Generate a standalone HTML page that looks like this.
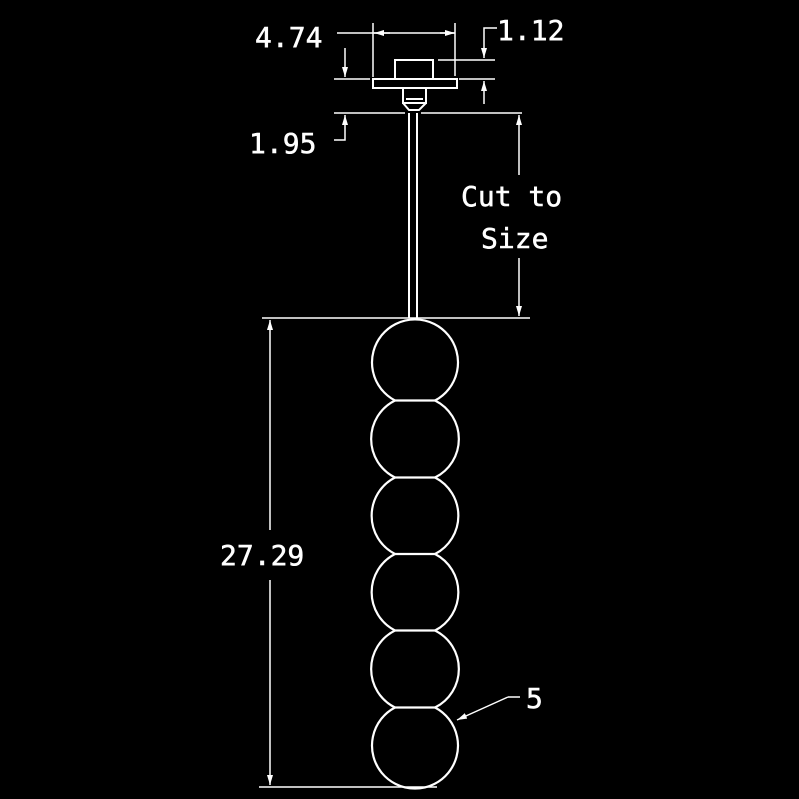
<!DOCTYPE html>
<html><head><meta charset="utf-8"><style>
html,body{margin:0;padding:0;background:#000;}
svg{display:block}
text{font-family:"DejaVu Sans Mono","Liberation Mono",monospace;fill:#fff;font-size:28px;stroke:#fff;stroke-width:0.5}
</style></head><body>
<svg width="799" height="799" viewBox="0 0 799 799" xmlns="http://www.w3.org/2000/svg">
<defs>
<marker id="a" viewBox="0 0 10 6" refX="10" refY="3" markerWidth="10" markerHeight="6" markerUnits="userSpaceOnUse" orient="auto"><path d="M0,0 L10,3 L0,6 z" fill="#fff"/></marker>
</defs>
<g stroke="#fff" stroke-width="1.5" fill="none">
<line x1="337" y1="33" x2="455" y2="33"/>
<line x1="390" y1="33" x2="374" y2="33" marker-end="url(#a)"/>
<line x1="440" y1="33" x2="455" y2="33" marker-end="url(#a)"/>
<line x1="373" y1="23" x2="373" y2="77"/>
<line x1="455" y1="23" x2="455" y2="76"/>
<rect x="373" y="79" width="84" height="9" stroke-width="2"/>
<rect x="395" y="60" width="38" height="19" stroke-width="2"/>
<path d="M403,88 L403,103 L426,103 L426,88 M403,103 L409,110 L419,110 L426,103 M406,99 L423,99" stroke-width="2"/>
<line x1="334" y1="79" x2="370" y2="79"/>
<line x1="345" y1="48" x2="345" y2="77" marker-end="url(#a)"/>
<line x1="438" y1="60" x2="495" y2="60"/>
<line x1="459" y1="79" x2="495" y2="79"/>
<polyline points="497,28 484,28 484,58" marker-end="url(#a)"/>
<line x1="484" y1="104" x2="484" y2="81" marker-end="url(#a)"/>
<line x1="334" y1="113" x2="405" y2="113"/>
<line x1="421" y1="113" x2="522" y2="113"/>
<polyline points="334,140 345,140 345,115" marker-end="url(#a)"/>
<line x1="409" y1="113" x2="409" y2="318" stroke-width="2"/>
<line x1="417" y1="113" x2="417" y2="318" stroke-width="2"/>
<line x1="519" y1="175" x2="519" y2="115" marker-end="url(#a)"/>
<line x1="519" y1="258" x2="519" y2="316" marker-end="url(#a)"/>
<line x1="262" y1="318" x2="530" y2="318"/>
<line x1="270" y1="530" x2="270" y2="320" marker-end="url(#a)"/>
<line x1="270" y1="580" x2="270" y2="785" marker-end="url(#a)"/>
<line x1="259" y1="787" x2="437" y2="787"/>
<line x1="520" y1="697" x2="508" y2="697"/>
<line x1="508" y1="697" x2="457" y2="720" marker-end="url(#a)"/>
</g>
<g stroke="#fff" stroke-width="2.2" fill="none">
<path d="M395,400.5 A43,43 0 1 1 435,400.5"/>
<path d="M395,400.5 A43,43 0 0 0 395,477.5 M435,400.5 A43,43 0 0 1 435,477.5"/>
<path d="M395,477.5 A43,43 0 0 0 395,554 M435,477.5 A43,43 0 0 1 435,554"/>
<path d="M395,554 A43,43 0 0 0 395,630.5 M435,554 A43,43 0 0 1 435,630.5"/>
<path d="M395,630.5 A43,43 0 0 0 395,707.5 M435,630.5 A43,43 0 0 1 435,707.5"/>
<path d="M395,707.5 A43,43 0 1 0 435,707.5"/>
<line x1="395" y1="400.5" x2="435" y2="400.5"/>
<line x1="395" y1="477.5" x2="435" y2="477.5"/>
<line x1="395" y1="554" x2="435" y2="554"/>
<line x1="395" y1="630.5" x2="435" y2="630.5"/>
<line x1="395" y1="707.5" x2="435" y2="707.5"/>
</g>
<text x="255" y="47">4.74</text>
<text x="497" y="40">1.12</text>
<text x="249" y="153">1.95</text>
<text x="461" y="206">Cut to</text>
<text x="481" y="248">Size</text>
<text x="220" y="565">27.29</text>
<text x="526" y="708">5</text>
</svg>
</body></html>
